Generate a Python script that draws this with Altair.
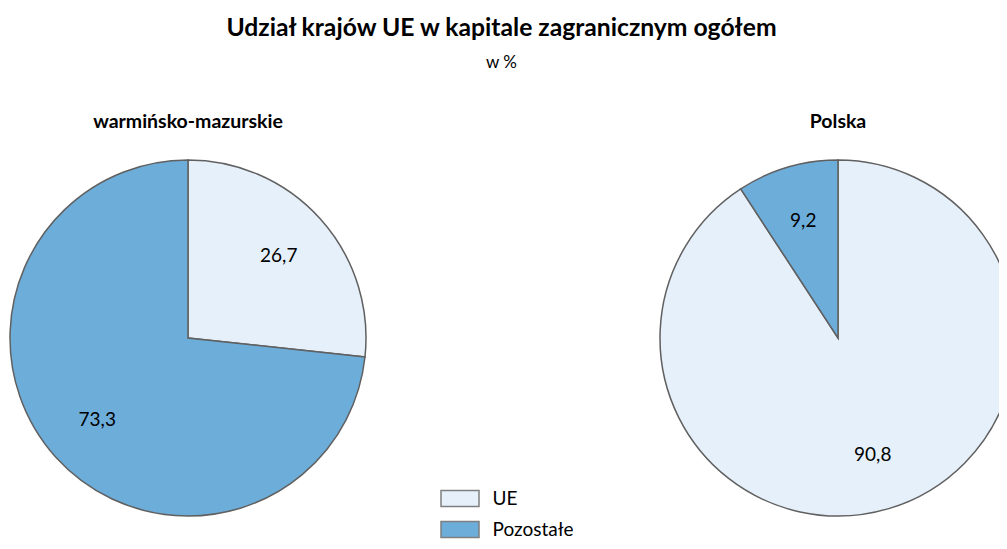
import altair as alt
import pandas as pd

regions = ["warmińsko-mazurskie", "Polska"]
categories = ["UE", "Pozostałe"]
ue_share = [26.7, 90.8]
other_share = [73.3, 9.2]

rows = []
for r, ue, oth in zip(regions, ue_share, other_share):
    for i, (c, v) in enumerate(zip(categories, [ue, oth])):
        rows.append({"region": r, "cat": c, "value": v, "idx": i,
                     "label": f"{v:.1f}".replace(".", ",")})
df = pd.DataFrame(rows)
title_df = pd.DataFrame({"region": regions})

FONT = "Lato"
LIGHT = "#E6F0FA"
BLUE = "#6DADDA"
EDGE = "#606060"

xscale = alt.Scale(type="point", domain=regions, range=[180, 830], padding=0)
x_enc = alt.X("region:N", scale=xscale, axis=None)
tscale = alt.Scale(domain=[0, 100])

base = alt.Chart(df).transform_window(
    end="sum(value)", groupby=["region"], sort=[alt.SortField("idx")], frame=[None, 0]
).transform_calculate(
    start="datum.end - datum.value", mid="datum.end - datum.value / 2"
)

arcs = base.mark_arc(outerRadius=178, stroke=EDGE, strokeWidth=1.5).encode(
    x=x_enc,
    y=alt.value(230),
    theta=alt.Theta("start:Q", scale=tscale),
    theta2="end:Q",
    color=alt.Color(
        "cat:N",
        scale=alt.Scale(domain=categories, range=[LIGHT, BLUE]),
        legend=alt.Legend(
            title=None, orient="none", legendX=442.5, legendY=381,
            symbolType="M-2.375,-1H2.375V1H-2.375Z", symbolSize=256,
            symbolStrokeColor="#7f7f7f", symbolStrokeWidth=1.5, symbolOpacity=1,
            labelFont=FONT, labelFontSize=19, labelColor="#000000",
            labelOffset=23, rowPadding=8, padding=0,
        ),
    ),
)

labels = base.mark_text(radius=122, font=FONT, fontSize=19, color="#000000").encode(
    x=x_enc,
    y=alt.value(230),
    theta=alt.Theta("mid:Q", scale=tscale),
    text="label:N",
)

panel_titles = alt.Chart(title_df).mark_text(
    font=FONT, fontSize=19.5, fontWeight="bold", baseline="alphabetic", color="#000000"
).encode(x=x_enc, y=alt.value(20), text="region:N")

chart = alt.layer(arcs, labels, panel_titles).properties(
    width=991,
    height=433,
    autosize=alt.AutoSizeParams(type="none"),
    padding={"left": 0, "top": 100, "right": 0, "bottom": 0},
    title=alt.TitleParams(
        "Udział krajów UE w kapitale zagranicznym ogółem",
        subtitle="w %",
        font=FONT, fontSize=24.7, fontWeight="bold", color="#000000",
        subtitleFont=FONT, subtitleFontSize=17, subtitleColor="#000000",
        subtitlePadding=14, anchor="middle", offset=37, dx=-2,
    ),
).configure_view(stroke=None)

chart.save("out.html", embed_options={"renderer": "svg", "actions": False})
